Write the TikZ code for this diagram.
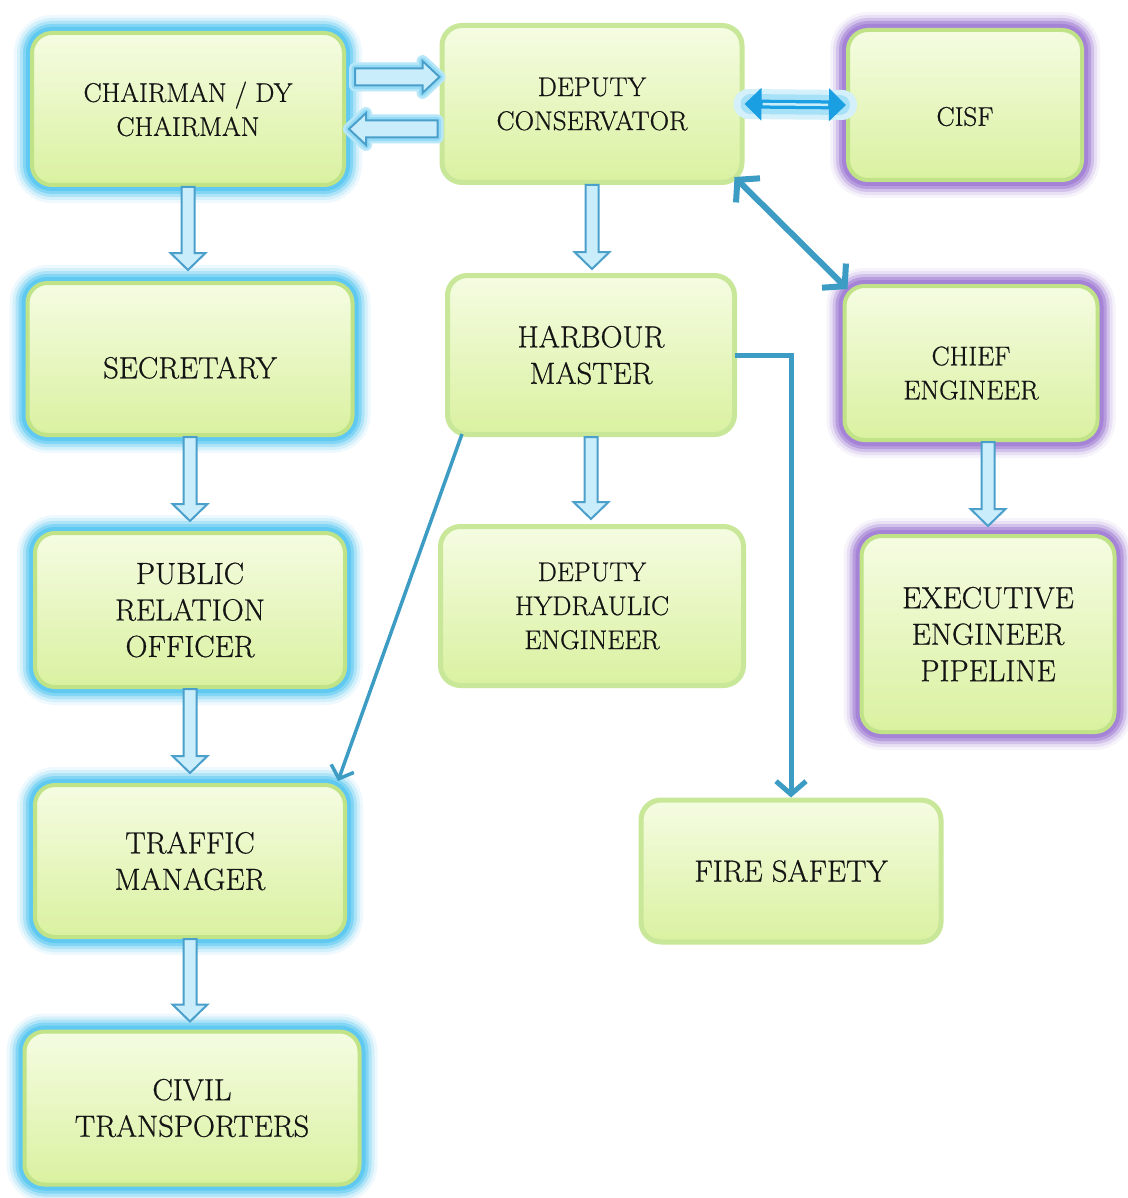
\documentclass[tikz,border=0pt]{standalone}
\usepackage{fontspec}
\newfontfamily\boxfont{Latin Modern Roman}[FakeBold=0.7]
\usetikzlibrary{arrows.meta,calc}
\definecolor{boxtop}{HTML}{F5FCE2}
\definecolor{boxbot}{HTML}{DAF1A0}
\definecolor{boxline}{HTML}{BFE386}
\definecolor{glowblue}{HTML}{4EC3F0}
\definecolor{glowpurple}{HTML}{A583D6}
\definecolor{arrfill}{HTML}{C9EDFA}
\definecolor{arrline}{HTML}{4B9FCB}
\definecolor{tealln}{HTML}{3C9CC3}
\definecolor{brightblue}{HTML}{1B9FE3}
\definecolor{txt}{HTML}{141414}
\tikzset{
  box/.style={draw=boxline, line width=4pt, rounded corners=20pt, top color=boxtop,
    bottom color=boxbot, align=center, text=txt, inner sep=0pt},
  smalltxt/.style={font=\boxfont\fontsize{27}{34}\selectfont},
  bigtxt/.style={font=\boxfont\fontsize{30.5}{36.5}\selectfont},
  bglow/.style={preaction={draw=glowblue!10, line width=36pt},
    preaction={draw=glowblue!25, line width=30pt},
    preaction={draw=glowblue!45, line width=24pt},
    preaction={draw=glowblue!70, line width=18pt},
    preaction={draw=glowblue!90, line width=12pt}},
  pglow/.style={preaction={draw=glowpurple!10, line width=36pt},
    preaction={draw=glowpurple!25, line width=30pt},
    preaction={draw=glowpurple!50, line width=24pt},
    preaction={draw=glowpurple!80, line width=18pt},
    preaction={draw=glowpurple, line width=12pt}},
  plain/.style={line width=5pt, draw=boxline!85!white},
  blk/.style={draw=arrline, fill=arrfill, line width=2pt, line join=miter},
  hglow/.style={preaction={draw=glowblue!40, line width=12pt, line join=round},
    preaction={draw=glowblue!60, line width=7pt, line join=round}},
  conn/.style={draw=tealln, line join=miter},
}
\newcommand{\vblk}[2]{%
  \draw[blk] let \p1=(#1), \p2=(#2) in
    (\x1-6.5pt,\y1) -- (\x1-6.5pt,\y2+17pt) -- (\x1-17.5pt,\y2+17pt) -- (\x1,\y2)
    -- (\x1+17.5pt,\y2+17pt) -- (\x1+6.5pt,\y2+17pt) -- (\x1+6.5pt,\y1) -- cycle;}
\newcommand{\rblk}[2]{%
  \draw[blk,hglow] let \p1=(#1), \p2=(#2) in
    (\x1,\y1+8.5pt) -- (\x2-17pt,\y1+8.5pt) -- (\x2-17pt,\y1+16pt) -- (\x2,\y1)
    -- (\x2-17pt,\y1-16pt) -- (\x2-17pt,\y1-8.5pt) -- (\x1,\y1-8.5pt) -- cycle;}
\newcommand{\lblk}[2]{%
  \draw[blk,hglow] let \p1=(#1), \p2=(#2) in
    (\x1,\y1+8.5pt) -- (\x2+17pt,\y1+8.5pt) -- (\x2+17pt,\y1+16pt) -- (\x2,\y1)
    -- (\x2+17pt,\y1-16pt) -- (\x2+17pt,\y1-8.5pt) -- (\x1,\y1-8.5pt) -- cycle;}
\begin{document}
\begin{tikzpicture}[x=1pt,y=-1pt]
\useasboundingbox[fill=white] (0,0) rectangle (1127,1198);
% left column
\node[box,bglow,smalltxt,minimum width=312pt,minimum height=152pt] (chair) at (188,109) {CHAIRMAN / DY\\CHAIRMAN};
\node[box,bglow,bigtxt,minimum width=325pt,minimum height=152pt] (sec) at (190,359) {\rule{0pt}{39pt}SECRETARY};
\node[box,bglow,bigtxt,minimum width=310pt,minimum height=154pt] (pro) at (190,610) {PUBLIC\\RELATION\\OFFICER};
\node[box,bglow,bigtxt,minimum width=310pt,minimum height=152pt] (traffic) at (190,861) {TRAFFIC\\MANAGER};
\node[box,bglow,bigtxt,minimum width=335pt,minimum height=153pt] (civil) at (192,1108) {CIVIL\\TRANSPORTERS};
% middle column
\node[box,plain,smalltxt,minimum width=300pt,minimum height=157pt] (depcon) at (592,104) {DEPUTY\\CONSERVATOR};
\node[box,plain,bigtxt,minimum width=287pt,minimum height=159pt] (harb) at (591,355) {HARBOUR\\MASTER};
\node[box,plain,smalltxt,minimum width=303pt,minimum height=159pt] (dhe) at (592,606) {DEPUTY\\HYDRAULIC\\ENGINEER};
\node[box,plain,bigtxt,minimum width=300pt,minimum height=142pt] (fire) at (791,871) {FIRE SAFETY};
% right column
\node[box,pglow,smalltxt,minimum width=234pt,minimum height=150pt] (cisf) at (965,105) {\rule{0pt}{42pt}CISF};
\node[box,pglow,smalltxt,minimum width=253pt,minimum height=154pt] (chief) at (971,363) {\rule{0pt}{39pt}CHIEF\\ENGINEER};
\node[box,pglow,bigtxt,minimum width=253pt,minimum height=196pt] (exec) at (988,634) {EXECUTIVE\\ENGINEER\\PIPELINE};
% block arrows
\vblk{chair.south}{$(sec.north)+(0,11pt)$}
\vblk{sec.south}{$(pro.north)+(0,10pt)$}
\vblk{pro.south}{$(traffic.north)+(0,10pt)$}
\vblk{traffic.south}{$(civil.north)+(0,8pt)$}
\vblk{depcon.south}{$(harb.north)+(0,4pt)$}
\vblk{harb.south}{$(dhe.north)+(0,5pt)$}
\vblk{chief.south -| exec.north}{$(exec.north)+(0,8pt)$}
\rblk{$(chair.east)+(9pt,32pt)$}{$(depcon.west |- chair.east)+(0,32pt)$}
\lblk{$(depcon.west |- chair.east)+(-2pt,-20pt)$}{$(chair.east)+(3pt,-20pt)$}
% CISF double arrow
\draw[glowblue!25, line width=30pt, line cap=round, shorten <=4pt, shorten >=4pt] (depcon.east) -- (cisf.west);
\draw[glowblue!50, line width=20pt, line cap=round, shorten <=6pt, shorten >=6pt] (depcon.east) -- (cisf.west);
\draw[brightblue, line width=9pt, {Triangle[length=17pt,width=32pt]}-{Triangle[length=17pt,width=32pt]}] (depcon.east) -- (cisf.west);
\draw[arrfill, line width=2.5pt, shorten <=18pt, shorten >=18pt] (depcon.east) -- (cisf.west);
% teal connectors
\draw[conn, line width=6pt, {Straight Barb[length=15pt,width=34pt]}-{Straight Barb[length=15pt,width=34pt]}]
  ($(depcon.south east)+(-10pt,8pt)$) -- ($(chief.north west)+(5pt,-5pt)$);
\draw[conn, line width=5pt, -{Straight Barb[length=13pt,width=30pt]}] ($(harb.east)+(-2pt,0)$) -| (fire.north);
\draw[conn, line width=3.5pt, -{Straight Barb[length=11pt,width=24pt]}]
  ($(harb.south west)+(17pt,3pt)$) -- ($(traffic.north east)+(-9pt,2pt)$);
\end{tikzpicture}
\end{document}
